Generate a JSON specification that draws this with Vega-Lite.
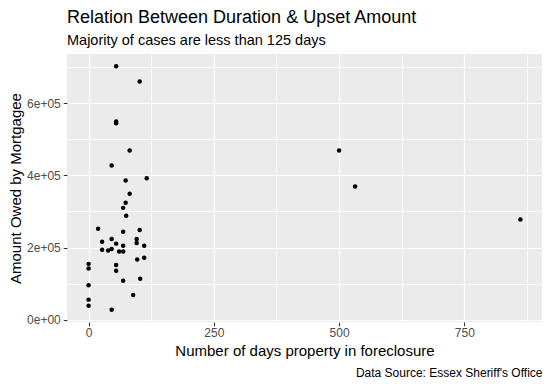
{
  "$schema": "https://vega.github.io/schema/vega-lite/v6.json",
  "autosize": {"type": "none"},
  "padding": {"left": 67, "top": 54, "right": 8, "bottom": 64},
  "width": 475,
  "height": 268,
  "background": "white",
  "title": {
    "text": "Relation Between Duration & Upset Amount",
    "subtitle": "Majority of cases are less than 125 days",
    "anchor": "start",
    "frame": "group",
    "font": "Liberation Sans",
    "fontSize": 18,
    "fontWeight": "normal",
    "color": "black",
    "subtitleFont": "Liberation Sans",
    "subtitleFontSize": 14.5,
    "subtitleColor": "black",
    "subtitlePadding": 7,
    "offset": 7
  },
  "config": {
    "view": {"fill": "#EBEBEB", "stroke": null},
    "axis": {
      "domain": false,
      "labelFont": "Liberation Sans",
      "labelFontSize": 12,
      "labelColor": "#4D4D4D",
      "titleFont": "Liberation Sans",
      "titleFontSize": 15,
      "titleFontWeight": "normal",
      "titleColor": "black",
      "tickColor": "#333333",
      "tickWidth": 1.1,
      "tickSize": 3.75,
      "tickCount": 30,
      "gridColor": "white",
      "gridOpacity": 1
    }
  },
  "data": {
    "values": [
      {"days": 55, "amount": 702000},
      {"days": 102, "amount": 660000},
      {"days": 55, "amount": 549000},
      {"days": 55, "amount": 544000},
      {"days": 82, "amount": 469000},
      {"days": 46, "amount": 427000},
      {"days": 116, "amount": 392000},
      {"days": 74, "amount": 386000},
      {"days": 82, "amount": 349000},
      {"days": 74, "amount": 324000},
      {"days": 69, "amount": 310000},
      {"days": 75, "amount": 288000},
      {"days": 19, "amount": 252000},
      {"days": 102, "amount": 249000},
      {"days": 69, "amount": 244000},
      {"days": 27, "amount": 216000},
      {"days": 46, "amount": 224000},
      {"days": 96, "amount": 224000},
      {"days": 55, "amount": 211000},
      {"days": 96, "amount": 213000},
      {"days": 69, "amount": 205000},
      {"days": 111, "amount": 205000},
      {"days": 27, "amount": 194000},
      {"days": 39, "amount": 192000},
      {"days": 46, "amount": 196000},
      {"days": 61, "amount": 189000},
      {"days": 69, "amount": 189000},
      {"days": 97, "amount": 167000},
      {"days": 111, "amount": 172000},
      {"days": 0, "amount": 155000},
      {"days": 0, "amount": 142000},
      {"days": 55, "amount": 152000},
      {"days": 55, "amount": 136000},
      {"days": 103, "amount": 114000},
      {"days": 69, "amount": 108000},
      {"days": 0, "amount": 96000},
      {"days": 89, "amount": 69000},
      {"days": 0, "amount": 56000},
      {"days": 0, "amount": 39000},
      {"days": 46, "amount": 28000},
      {"days": 500, "amount": 469000},
      {"days": 532, "amount": 369000},
      {"days": 862, "amount": 278000}
    ]
  },
  "layer": [
    {
      "mark": {"type": "point", "opacity": 0},
      "encoding": {
        "x": {
          "field": "days", "type": "quantitative",
          "scale": {"domain": [-43.1, 905.1], "nice": false, "zero": false},
          "axis": {
            "orient": "bottom",
            "title": "Data Source: Essex Sheriff's Office",
            "values": [125, 375, 625, 875],
            "tickCount": 30,
            "labels": false, "ticks": false, "grid": true, "gridWidth": 0.8, "domain": false,
            "titleAnchor": "end", "titleAlign": "right",
            "titleFontSize": 12,
            "titlePadding": 45
          }
        },
        "y": {
          "field": "amount", "type": "quantitative",
          "scale": {"domain": [-5900, 735900], "nice": false, "zero": false},
          "axis": {
            "orient": "left",
            "title": null,
            "values": [100000, 300000, 500000, 700000],
            "tickCount": 30,
            "labels": false, "ticks": false, "grid": true, "gridWidth": 0.8, "domain": false
          }
        }
      }
    },
    {
      "mark": {"type": "point", "filled": true, "color": "black", "opacity": 1, "size": 20, "strokeWidth": 0},
      "encoding": {
        "x": {
          "field": "days", "type": "quantitative",
          "scale": {"domain": [-43.1, 905.1], "nice": false, "zero": false},
          "axis": {
            "orient": "bottom",
            "title": "Number of days property in foreclosure",
            "values": [0, 250, 500, 750],
            "grid": true,
            "gridWidth": 1.2,
            "labelPadding": 2,
            "titlePadding": 5
          }
        },
        "y": {
          "field": "amount", "type": "quantitative",
          "scale": {"domain": [-5900, 735900], "nice": false, "zero": false},
          "axis": {
            "orient": "left",
            "title": "Amount Owed by Mortgagee",
            "values": [0, 200000, 400000, 600000],
            "labelExpr": "datum.value === 0 ? '0e+00' : (datum.value / 100000) + 'e+05'",
            "grid": true,
            "gridWidth": 1.2,
            "labelPadding": 3,
            "titlePadding": 3
          }
        }
      }
    }
  ],
  "resolve": {"axis": {"x": "independent", "y": "independent"}}
}
